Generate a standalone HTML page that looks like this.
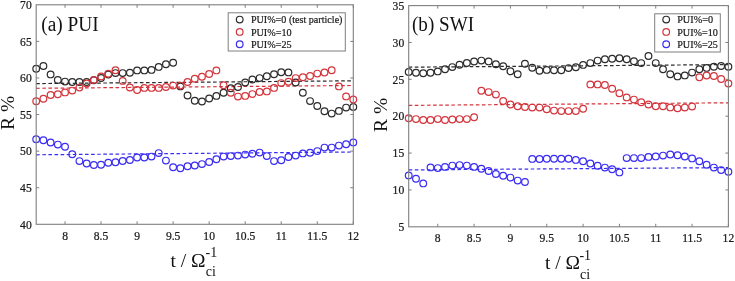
<!DOCTYPE html>
<html><head><meta charset="utf-8"><style>
html,body{margin:0;padding:0;background:#fff;}
body{width:735px;height:281px;overflow:hidden;}
svg{display:block;will-change:transform;}
text{font-family:"Liberation Serif",serif;}
.tk{font-size:11.6px;fill:#1a1a1a;stroke:#1a1a1a;stroke-width:0.22px;}
.lg{font-size:11px;fill:#1a1a1a;stroke:#1a1a1a;stroke-width:0.22px;}
.ttl{font-size:20px;fill:#111;}
.lab{font-size:19.5px;fill:#111;}
.sup{font-size:14px;fill:#111;}
</style></head><body>
<svg width="735" height="281" viewBox="0 0 735 281">
<rect width="735" height="281" fill="#fff"/>
<line x1="36.20" y1="83.6" x2="353.30" y2="80.8" stroke="#2b2b2b" stroke-width="1.2" stroke-dasharray="3.6 2.5"/>
<line x1="36.20" y1="88.3" x2="353.30" y2="85.5" stroke="#d4343c" stroke-width="1.2" stroke-dasharray="3.6 2.5"/>
<line x1="36.20" y1="154.8" x2="353.30" y2="152.0" stroke="#3a2cf2" stroke-width="1.2" stroke-dasharray="3.6 2.5"/>
<circle cx="36.20" cy="68.7" r="3.35" fill="none" stroke="#2b2b2b" stroke-width="1.2"/>
<circle cx="43.41" cy="66" r="3.35" fill="none" stroke="#2b2b2b" stroke-width="1.2"/>
<circle cx="50.61" cy="74.4" r="3.35" fill="none" stroke="#2b2b2b" stroke-width="1.2"/>
<circle cx="57.82" cy="79.9" r="3.35" fill="none" stroke="#2b2b2b" stroke-width="1.2"/>
<circle cx="65.03" cy="81.6" r="3.35" fill="none" stroke="#2b2b2b" stroke-width="1.2"/>
<circle cx="72.23" cy="82" r="3.35" fill="none" stroke="#2b2b2b" stroke-width="1.2"/>
<circle cx="79.44" cy="82" r="3.35" fill="none" stroke="#2b2b2b" stroke-width="1.2"/>
<circle cx="86.65" cy="82" r="3.35" fill="none" stroke="#2b2b2b" stroke-width="1.2"/>
<circle cx="93.85" cy="80.2" r="3.35" fill="none" stroke="#2b2b2b" stroke-width="1.2"/>
<circle cx="101.06" cy="78" r="3.35" fill="none" stroke="#2b2b2b" stroke-width="1.2"/>
<circle cx="108.27" cy="74.5" r="3.35" fill="none" stroke="#2b2b2b" stroke-width="1.2"/>
<circle cx="115.48" cy="73.1" r="3.35" fill="none" stroke="#2b2b2b" stroke-width="1.2"/>
<circle cx="122.68" cy="73.1" r="3.35" fill="none" stroke="#2b2b2b" stroke-width="1.2"/>
<circle cx="129.89" cy="72.8" r="3.35" fill="none" stroke="#2b2b2b" stroke-width="1.2"/>
<circle cx="137.10" cy="70.4" r="3.35" fill="none" stroke="#2b2b2b" stroke-width="1.2"/>
<circle cx="144.30" cy="70.4" r="3.35" fill="none" stroke="#2b2b2b" stroke-width="1.2"/>
<circle cx="151.51" cy="69.9" r="3.35" fill="none" stroke="#2b2b2b" stroke-width="1.2"/>
<circle cx="158.72" cy="66.9" r="3.35" fill="none" stroke="#2b2b2b" stroke-width="1.2"/>
<circle cx="165.92" cy="64.2" r="3.35" fill="none" stroke="#2b2b2b" stroke-width="1.2"/>
<circle cx="173.13" cy="62.8" r="3.35" fill="none" stroke="#2b2b2b" stroke-width="1.2"/>
<circle cx="180.34" cy="86.4" r="3.35" fill="none" stroke="#2b2b2b" stroke-width="1.2"/>
<circle cx="187.54" cy="95.5" r="3.35" fill="none" stroke="#2b2b2b" stroke-width="1.2"/>
<circle cx="194.75" cy="100.8" r="3.35" fill="none" stroke="#2b2b2b" stroke-width="1.2"/>
<circle cx="201.96" cy="101.5" r="3.35" fill="none" stroke="#2b2b2b" stroke-width="1.2"/>
<circle cx="209.16" cy="98.5" r="3.35" fill="none" stroke="#2b2b2b" stroke-width="1.2"/>
<circle cx="216.37" cy="95.9" r="3.35" fill="none" stroke="#2b2b2b" stroke-width="1.2"/>
<circle cx="223.58" cy="92.7" r="3.35" fill="none" stroke="#2b2b2b" stroke-width="1.2"/>
<circle cx="230.78" cy="88.2" r="3.35" fill="none" stroke="#2b2b2b" stroke-width="1.2"/>
<circle cx="237.99" cy="87" r="3.35" fill="none" stroke="#2b2b2b" stroke-width="1.2"/>
<circle cx="245.20" cy="82.5" r="3.35" fill="none" stroke="#2b2b2b" stroke-width="1.2"/>
<circle cx="252.40" cy="79.5" r="3.35" fill="none" stroke="#2b2b2b" stroke-width="1.2"/>
<circle cx="259.61" cy="78.1" r="3.35" fill="none" stroke="#2b2b2b" stroke-width="1.2"/>
<circle cx="266.82" cy="76.3" r="3.35" fill="none" stroke="#2b2b2b" stroke-width="1.2"/>
<circle cx="274.03" cy="74.2" r="3.35" fill="none" stroke="#2b2b2b" stroke-width="1.2"/>
<circle cx="281.23" cy="72.2" r="3.35" fill="none" stroke="#2b2b2b" stroke-width="1.2"/>
<circle cx="288.44" cy="72.4" r="3.35" fill="none" stroke="#2b2b2b" stroke-width="1.2"/>
<circle cx="295.65" cy="82.5" r="3.35" fill="none" stroke="#2b2b2b" stroke-width="1.2"/>
<circle cx="302.85" cy="92.8" r="3.35" fill="none" stroke="#2b2b2b" stroke-width="1.2"/>
<circle cx="310.06" cy="101.1" r="3.35" fill="none" stroke="#2b2b2b" stroke-width="1.2"/>
<circle cx="317.27" cy="106" r="3.35" fill="none" stroke="#2b2b2b" stroke-width="1.2"/>
<circle cx="324.47" cy="111.2" r="3.35" fill="none" stroke="#2b2b2b" stroke-width="1.2"/>
<circle cx="331.68" cy="113.6" r="3.35" fill="none" stroke="#2b2b2b" stroke-width="1.2"/>
<circle cx="338.89" cy="110.9" r="3.35" fill="none" stroke="#2b2b2b" stroke-width="1.2"/>
<circle cx="346.09" cy="107.6" r="3.35" fill="none" stroke="#2b2b2b" stroke-width="1.2"/>
<circle cx="353.30" cy="106.9" r="3.35" fill="none" stroke="#2b2b2b" stroke-width="1.2"/>
<circle cx="36.20" cy="101.3" r="3.35" fill="none" stroke="#d4343c" stroke-width="1.2"/>
<circle cx="43.41" cy="98.7" r="3.35" fill="none" stroke="#d4343c" stroke-width="1.2"/>
<circle cx="50.61" cy="95" r="3.35" fill="none" stroke="#d4343c" stroke-width="1.2"/>
<circle cx="57.82" cy="94.2" r="3.35" fill="none" stroke="#d4343c" stroke-width="1.2"/>
<circle cx="65.03" cy="92.4" r="3.35" fill="none" stroke="#d4343c" stroke-width="1.2"/>
<circle cx="72.23" cy="90.6" r="3.35" fill="none" stroke="#d4343c" stroke-width="1.2"/>
<circle cx="79.44" cy="87.6" r="3.35" fill="none" stroke="#d4343c" stroke-width="1.2"/>
<circle cx="86.65" cy="83.5" r="3.35" fill="none" stroke="#d4343c" stroke-width="1.2"/>
<circle cx="93.85" cy="79.9" r="3.35" fill="none" stroke="#d4343c" stroke-width="1.2"/>
<circle cx="101.06" cy="76.4" r="3.35" fill="none" stroke="#d4343c" stroke-width="1.2"/>
<circle cx="108.27" cy="73.7" r="3.35" fill="none" stroke="#d4343c" stroke-width="1.2"/>
<circle cx="115.48" cy="70.2" r="3.35" fill="none" stroke="#d4343c" stroke-width="1.2"/>
<circle cx="122.68" cy="80.9" r="3.35" fill="none" stroke="#d4343c" stroke-width="1.2"/>
<circle cx="129.89" cy="87.5" r="3.35" fill="none" stroke="#d4343c" stroke-width="1.2"/>
<circle cx="137.10" cy="90" r="3.35" fill="none" stroke="#d4343c" stroke-width="1.2"/>
<circle cx="144.30" cy="87.9" r="3.35" fill="none" stroke="#d4343c" stroke-width="1.2"/>
<circle cx="151.51" cy="87.9" r="3.35" fill="none" stroke="#d4343c" stroke-width="1.2"/>
<circle cx="158.72" cy="87.9" r="3.35" fill="none" stroke="#d4343c" stroke-width="1.2"/>
<circle cx="165.92" cy="87" r="3.35" fill="none" stroke="#d4343c" stroke-width="1.2"/>
<circle cx="173.13" cy="85.6" r="3.35" fill="none" stroke="#d4343c" stroke-width="1.2"/>
<circle cx="180.34" cy="85.6" r="3.35" fill="none" stroke="#d4343c" stroke-width="1.2"/>
<circle cx="187.54" cy="82" r="3.35" fill="none" stroke="#d4343c" stroke-width="1.2"/>
<circle cx="194.75" cy="78.8" r="3.35" fill="none" stroke="#d4343c" stroke-width="1.2"/>
<circle cx="201.96" cy="76.7" r="3.35" fill="none" stroke="#d4343c" stroke-width="1.2"/>
<circle cx="209.16" cy="74" r="3.35" fill="none" stroke="#d4343c" stroke-width="1.2"/>
<circle cx="216.37" cy="70.4" r="3.35" fill="none" stroke="#d4343c" stroke-width="1.2"/>
<circle cx="223.58" cy="85.2" r="3.35" fill="none" stroke="#d4343c" stroke-width="1.2"/>
<circle cx="230.78" cy="92.7" r="3.35" fill="none" stroke="#d4343c" stroke-width="1.2"/>
<circle cx="237.99" cy="96.6" r="3.35" fill="none" stroke="#d4343c" stroke-width="1.2"/>
<circle cx="245.20" cy="95.9" r="3.35" fill="none" stroke="#d4343c" stroke-width="1.2"/>
<circle cx="252.40" cy="94.1" r="3.35" fill="none" stroke="#d4343c" stroke-width="1.2"/>
<circle cx="259.61" cy="92" r="3.35" fill="none" stroke="#d4343c" stroke-width="1.2"/>
<circle cx="266.82" cy="91.4" r="3.35" fill="none" stroke="#d4343c" stroke-width="1.2"/>
<circle cx="274.03" cy="87.9" r="3.35" fill="none" stroke="#d4343c" stroke-width="1.2"/>
<circle cx="281.23" cy="83.1" r="3.35" fill="none" stroke="#d4343c" stroke-width="1.2"/>
<circle cx="288.44" cy="81.7" r="3.35" fill="none" stroke="#d4343c" stroke-width="1.2"/>
<circle cx="295.65" cy="78.1" r="3.35" fill="none" stroke="#d4343c" stroke-width="1.2"/>
<circle cx="302.85" cy="77.2" r="3.35" fill="none" stroke="#d4343c" stroke-width="1.2"/>
<circle cx="310.06" cy="76" r="3.35" fill="none" stroke="#d4343c" stroke-width="1.2"/>
<circle cx="317.27" cy="73.6" r="3.35" fill="none" stroke="#d4343c" stroke-width="1.2"/>
<circle cx="324.47" cy="72.5" r="3.35" fill="none" stroke="#d4343c" stroke-width="1.2"/>
<circle cx="331.68" cy="70.3" r="3.35" fill="none" stroke="#d4343c" stroke-width="1.2"/>
<circle cx="338.89" cy="86.4" r="3.35" fill="none" stroke="#d4343c" stroke-width="1.2"/>
<circle cx="346.09" cy="96.4" r="3.35" fill="none" stroke="#d4343c" stroke-width="1.2"/>
<circle cx="353.30" cy="99.5" r="3.35" fill="none" stroke="#d4343c" stroke-width="1.2"/>
<circle cx="36.20" cy="139.3" r="3.35" fill="none" stroke="#3a2cf2" stroke-width="1.2"/>
<circle cx="43.41" cy="140.3" r="3.35" fill="none" stroke="#3a2cf2" stroke-width="1.2"/>
<circle cx="50.61" cy="142.5" r="3.35" fill="none" stroke="#3a2cf2" stroke-width="1.2"/>
<circle cx="57.82" cy="144.6" r="3.35" fill="none" stroke="#3a2cf2" stroke-width="1.2"/>
<circle cx="65.03" cy="146.8" r="3.35" fill="none" stroke="#3a2cf2" stroke-width="1.2"/>
<circle cx="72.23" cy="154.3" r="3.35" fill="none" stroke="#3a2cf2" stroke-width="1.2"/>
<circle cx="79.44" cy="161.1" r="3.35" fill="none" stroke="#3a2cf2" stroke-width="1.2"/>
<circle cx="86.65" cy="163.5" r="3.35" fill="none" stroke="#3a2cf2" stroke-width="1.2"/>
<circle cx="93.85" cy="165" r="3.35" fill="none" stroke="#3a2cf2" stroke-width="1.2"/>
<circle cx="101.06" cy="164.8" r="3.35" fill="none" stroke="#3a2cf2" stroke-width="1.2"/>
<circle cx="108.27" cy="162.8" r="3.35" fill="none" stroke="#3a2cf2" stroke-width="1.2"/>
<circle cx="115.48" cy="162.2" r="3.35" fill="none" stroke="#3a2cf2" stroke-width="1.2"/>
<circle cx="122.68" cy="161" r="3.35" fill="none" stroke="#3a2cf2" stroke-width="1.2"/>
<circle cx="129.89" cy="160" r="3.35" fill="none" stroke="#3a2cf2" stroke-width="1.2"/>
<circle cx="137.10" cy="157.5" r="3.35" fill="none" stroke="#3a2cf2" stroke-width="1.2"/>
<circle cx="144.30" cy="157.5" r="3.35" fill="none" stroke="#3a2cf2" stroke-width="1.2"/>
<circle cx="151.51" cy="156.6" r="3.35" fill="none" stroke="#3a2cf2" stroke-width="1.2"/>
<circle cx="158.72" cy="153.1" r="3.35" fill="none" stroke="#3a2cf2" stroke-width="1.2"/>
<circle cx="165.92" cy="160.6" r="3.35" fill="none" stroke="#3a2cf2" stroke-width="1.2"/>
<circle cx="173.13" cy="167.3" r="3.35" fill="none" stroke="#3a2cf2" stroke-width="1.2"/>
<circle cx="180.34" cy="168.3" r="3.35" fill="none" stroke="#3a2cf2" stroke-width="1.2"/>
<circle cx="187.54" cy="166.2" r="3.35" fill="none" stroke="#3a2cf2" stroke-width="1.2"/>
<circle cx="194.75" cy="165.5" r="3.35" fill="none" stroke="#3a2cf2" stroke-width="1.2"/>
<circle cx="201.96" cy="164.1" r="3.35" fill="none" stroke="#3a2cf2" stroke-width="1.2"/>
<circle cx="209.16" cy="162" r="3.35" fill="none" stroke="#3a2cf2" stroke-width="1.2"/>
<circle cx="216.37" cy="159.3" r="3.35" fill="none" stroke="#3a2cf2" stroke-width="1.2"/>
<circle cx="223.58" cy="156.6" r="3.35" fill="none" stroke="#3a2cf2" stroke-width="1.2"/>
<circle cx="230.78" cy="156.1" r="3.35" fill="none" stroke="#3a2cf2" stroke-width="1.2"/>
<circle cx="237.99" cy="155.6" r="3.35" fill="none" stroke="#3a2cf2" stroke-width="1.2"/>
<circle cx="245.20" cy="154.6" r="3.35" fill="none" stroke="#3a2cf2" stroke-width="1.2"/>
<circle cx="252.40" cy="153.8" r="3.35" fill="none" stroke="#3a2cf2" stroke-width="1.2"/>
<circle cx="259.61" cy="152.6" r="3.35" fill="none" stroke="#3a2cf2" stroke-width="1.2"/>
<circle cx="266.82" cy="156.1" r="3.35" fill="none" stroke="#3a2cf2" stroke-width="1.2"/>
<circle cx="274.03" cy="161.1" r="3.35" fill="none" stroke="#3a2cf2" stroke-width="1.2"/>
<circle cx="281.23" cy="160.2" r="3.35" fill="none" stroke="#3a2cf2" stroke-width="1.2"/>
<circle cx="288.44" cy="157" r="3.35" fill="none" stroke="#3a2cf2" stroke-width="1.2"/>
<circle cx="295.65" cy="155.6" r="3.35" fill="none" stroke="#3a2cf2" stroke-width="1.2"/>
<circle cx="302.85" cy="153.4" r="3.35" fill="none" stroke="#3a2cf2" stroke-width="1.2"/>
<circle cx="310.06" cy="152.7" r="3.35" fill="none" stroke="#3a2cf2" stroke-width="1.2"/>
<circle cx="317.27" cy="151.1" r="3.35" fill="none" stroke="#3a2cf2" stroke-width="1.2"/>
<circle cx="324.47" cy="147.6" r="3.35" fill="none" stroke="#3a2cf2" stroke-width="1.2"/>
<circle cx="331.68" cy="147.6" r="3.35" fill="none" stroke="#3a2cf2" stroke-width="1.2"/>
<circle cx="338.89" cy="145.6" r="3.35" fill="none" stroke="#3a2cf2" stroke-width="1.2"/>
<circle cx="346.09" cy="144.3" r="3.35" fill="none" stroke="#3a2cf2" stroke-width="1.2"/>
<circle cx="353.30" cy="142.4" r="3.35" fill="none" stroke="#3a2cf2" stroke-width="1.2"/>
<rect x="36.2" y="4.8" width="317.10" height="219.50" fill="none" stroke="#7f7f7f" stroke-width="1.1"/>
<line x1="65.03" y1="224.3" x2="65.03" y2="221.3" stroke="#7f7f7f" stroke-width="1"/>
<line x1="65.03" y1="4.8" x2="65.03" y2="7.8" stroke="#7f7f7f" stroke-width="1"/>
<text x="65.03" y="239.5" text-anchor="middle" class="tk">8</text>
<line x1="101.06" y1="224.3" x2="101.06" y2="221.3" stroke="#7f7f7f" stroke-width="1"/>
<line x1="101.06" y1="4.8" x2="101.06" y2="7.8" stroke="#7f7f7f" stroke-width="1"/>
<text x="101.06" y="239.5" text-anchor="middle" class="tk">8.5</text>
<line x1="137.10" y1="224.3" x2="137.10" y2="221.3" stroke="#7f7f7f" stroke-width="1"/>
<line x1="137.10" y1="4.8" x2="137.10" y2="7.8" stroke="#7f7f7f" stroke-width="1"/>
<text x="137.10" y="239.5" text-anchor="middle" class="tk">9</text>
<line x1="173.13" y1="224.3" x2="173.13" y2="221.3" stroke="#7f7f7f" stroke-width="1"/>
<line x1="173.13" y1="4.8" x2="173.13" y2="7.8" stroke="#7f7f7f" stroke-width="1"/>
<text x="173.13" y="239.5" text-anchor="middle" class="tk">9.5</text>
<line x1="209.16" y1="224.3" x2="209.16" y2="221.3" stroke="#7f7f7f" stroke-width="1"/>
<line x1="209.16" y1="4.8" x2="209.16" y2="7.8" stroke="#7f7f7f" stroke-width="1"/>
<text x="209.16" y="239.5" text-anchor="middle" class="tk">10</text>
<line x1="245.20" y1="224.3" x2="245.20" y2="221.3" stroke="#7f7f7f" stroke-width="1"/>
<line x1="245.20" y1="4.8" x2="245.20" y2="7.8" stroke="#7f7f7f" stroke-width="1"/>
<text x="245.20" y="239.5" text-anchor="middle" class="tk">10.5</text>
<line x1="281.23" y1="224.3" x2="281.23" y2="221.3" stroke="#7f7f7f" stroke-width="1"/>
<line x1="281.23" y1="4.8" x2="281.23" y2="7.8" stroke="#7f7f7f" stroke-width="1"/>
<text x="281.23" y="239.5" text-anchor="middle" class="tk">11</text>
<line x1="317.27" y1="224.3" x2="317.27" y2="221.3" stroke="#7f7f7f" stroke-width="1"/>
<line x1="317.27" y1="4.8" x2="317.27" y2="7.8" stroke="#7f7f7f" stroke-width="1"/>
<text x="317.27" y="239.5" text-anchor="middle" class="tk">11.5</text>
<line x1="353.30" y1="224.3" x2="353.30" y2="221.3" stroke="#7f7f7f" stroke-width="1"/>
<line x1="353.30" y1="4.8" x2="353.30" y2="7.8" stroke="#7f7f7f" stroke-width="1"/>
<text x="353.30" y="239.5" text-anchor="middle" class="tk">12</text>
<text x="31.700000000000003" y="228.50" text-anchor="end" class="tk">40</text>
<line x1="36.2" y1="187.72" x2="39.2" y2="187.72" stroke="#7f7f7f" stroke-width="1"/>
<line x1="353.3" y1="187.72" x2="350.3" y2="187.72" stroke="#7f7f7f" stroke-width="1"/>
<text x="31.700000000000003" y="191.92" text-anchor="end" class="tk">45</text>
<line x1="36.2" y1="151.13" x2="39.2" y2="151.13" stroke="#7f7f7f" stroke-width="1"/>
<line x1="353.3" y1="151.13" x2="350.3" y2="151.13" stroke="#7f7f7f" stroke-width="1"/>
<text x="31.700000000000003" y="155.33" text-anchor="end" class="tk">50</text>
<line x1="36.2" y1="114.55" x2="39.2" y2="114.55" stroke="#7f7f7f" stroke-width="1"/>
<line x1="353.3" y1="114.55" x2="350.3" y2="114.55" stroke="#7f7f7f" stroke-width="1"/>
<text x="31.700000000000003" y="118.75" text-anchor="end" class="tk">55</text>
<line x1="36.2" y1="77.97" x2="39.2" y2="77.97" stroke="#7f7f7f" stroke-width="1"/>
<line x1="353.3" y1="77.97" x2="350.3" y2="77.97" stroke="#7f7f7f" stroke-width="1"/>
<text x="31.700000000000003" y="82.17" text-anchor="end" class="tk">60</text>
<line x1="36.2" y1="41.38" x2="39.2" y2="41.38" stroke="#7f7f7f" stroke-width="1"/>
<line x1="353.3" y1="41.38" x2="350.3" y2="41.38" stroke="#7f7f7f" stroke-width="1"/>
<text x="31.700000000000003" y="45.58" text-anchor="end" class="tk">65</text>
<text x="31.700000000000003" y="9.00" text-anchor="end" class="tk">70</text>
<text x="41.2" y="30.5" class="ttl" textLength="57.5" lengthAdjust="spacingAndGlyphs">(a) PUI</text>
<rect x="228.2" y="12.8" width="117.10000000000002" height="38.2" fill="#fff" stroke="#7f7f7f" stroke-width="1"/>
<circle cx="239.7" cy="19.6" r="3.35" fill="none" stroke="#2b2b2b" stroke-width="1.2"/>
<text x="250.9" y="23.400000000000002" class="lg" textLength="91.6" lengthAdjust="spacingAndGlyphs">PUI%=0 (test particle)</text>
<circle cx="239.7" cy="31.900000000000002" r="3.35" fill="none" stroke="#d4343c" stroke-width="1.2"/>
<text x="250.9" y="35.7" class="lg" textLength="40.7" lengthAdjust="spacingAndGlyphs">PUI%=10</text>
<circle cx="239.7" cy="44.2" r="3.35" fill="none" stroke="#3a2cf2" stroke-width="1.2"/>
<text x="250.9" y="48.0" class="lg" textLength="40.7" lengthAdjust="spacingAndGlyphs">PUI%=25</text>
<line x1="408.70" y1="67.2" x2="728.40" y2="64.6" stroke="#2b2b2b" stroke-width="1.2" stroke-dasharray="3.6 2.5"/>
<line x1="408.70" y1="105.4" x2="728.40" y2="102.8" stroke="#d4343c" stroke-width="1.2" stroke-dasharray="3.6 2.5"/>
<line x1="408.70" y1="169.9" x2="728.40" y2="167.6" stroke="#3a2cf2" stroke-width="1.2" stroke-dasharray="3.6 2.5"/>
<circle cx="408.70" cy="71.9" r="3.35" fill="none" stroke="#2b2b2b" stroke-width="1.2"/>
<circle cx="415.97" cy="72.8" r="3.35" fill="none" stroke="#2b2b2b" stroke-width="1.2"/>
<circle cx="423.23" cy="73.3" r="3.35" fill="none" stroke="#2b2b2b" stroke-width="1.2"/>
<circle cx="430.50" cy="72.8" r="3.35" fill="none" stroke="#2b2b2b" stroke-width="1.2"/>
<circle cx="437.76" cy="71.4" r="3.35" fill="none" stroke="#2b2b2b" stroke-width="1.2"/>
<circle cx="445.03" cy="69.2" r="3.35" fill="none" stroke="#2b2b2b" stroke-width="1.2"/>
<circle cx="452.30" cy="67.1" r="3.35" fill="none" stroke="#2b2b2b" stroke-width="1.2"/>
<circle cx="459.56" cy="64.8" r="3.35" fill="none" stroke="#2b2b2b" stroke-width="1.2"/>
<circle cx="466.83" cy="63" r="3.35" fill="none" stroke="#2b2b2b" stroke-width="1.2"/>
<circle cx="474.09" cy="61.5" r="3.35" fill="none" stroke="#2b2b2b" stroke-width="1.2"/>
<circle cx="481.36" cy="60.6" r="3.35" fill="none" stroke="#2b2b2b" stroke-width="1.2"/>
<circle cx="488.62" cy="61.4" r="3.35" fill="none" stroke="#2b2b2b" stroke-width="1.2"/>
<circle cx="495.89" cy="64.2" r="3.35" fill="none" stroke="#2b2b2b" stroke-width="1.2"/>
<circle cx="503.16" cy="66.3" r="3.35" fill="none" stroke="#2b2b2b" stroke-width="1.2"/>
<circle cx="510.42" cy="71.3" r="3.35" fill="none" stroke="#2b2b2b" stroke-width="1.2"/>
<circle cx="517.69" cy="74.3" r="3.35" fill="none" stroke="#2b2b2b" stroke-width="1.2"/>
<circle cx="524.95" cy="63.7" r="3.35" fill="none" stroke="#2b2b2b" stroke-width="1.2"/>
<circle cx="532.22" cy="67.8" r="3.35" fill="none" stroke="#2b2b2b" stroke-width="1.2"/>
<circle cx="539.49" cy="70.8" r="3.35" fill="none" stroke="#2b2b2b" stroke-width="1.2"/>
<circle cx="546.75" cy="69.9" r="3.35" fill="none" stroke="#2b2b2b" stroke-width="1.2"/>
<circle cx="554.02" cy="70.2" r="3.35" fill="none" stroke="#2b2b2b" stroke-width="1.2"/>
<circle cx="561.28" cy="70.2" r="3.35" fill="none" stroke="#2b2b2b" stroke-width="1.2"/>
<circle cx="568.55" cy="68.1" r="3.35" fill="none" stroke="#2b2b2b" stroke-width="1.2"/>
<circle cx="575.82" cy="67.2" r="3.35" fill="none" stroke="#2b2b2b" stroke-width="1.2"/>
<circle cx="583.08" cy="64.9" r="3.35" fill="none" stroke="#2b2b2b" stroke-width="1.2"/>
<circle cx="590.35" cy="63.1" r="3.35" fill="none" stroke="#2b2b2b" stroke-width="1.2"/>
<circle cx="597.61" cy="60.6" r="3.35" fill="none" stroke="#2b2b2b" stroke-width="1.2"/>
<circle cx="604.88" cy="59.2" r="3.35" fill="none" stroke="#2b2b2b" stroke-width="1.2"/>
<circle cx="612.15" cy="58.8" r="3.35" fill="none" stroke="#2b2b2b" stroke-width="1.2"/>
<circle cx="619.41" cy="58.3" r="3.35" fill="none" stroke="#2b2b2b" stroke-width="1.2"/>
<circle cx="626.68" cy="59.2" r="3.35" fill="none" stroke="#2b2b2b" stroke-width="1.2"/>
<circle cx="633.94" cy="61.3" r="3.35" fill="none" stroke="#2b2b2b" stroke-width="1.2"/>
<circle cx="641.21" cy="63.1" r="3.35" fill="none" stroke="#2b2b2b" stroke-width="1.2"/>
<circle cx="648.48" cy="56" r="3.35" fill="none" stroke="#2b2b2b" stroke-width="1.2"/>
<circle cx="655.74" cy="63.1" r="3.35" fill="none" stroke="#2b2b2b" stroke-width="1.2"/>
<circle cx="663.01" cy="69.3" r="3.35" fill="none" stroke="#2b2b2b" stroke-width="1.2"/>
<circle cx="670.27" cy="74.2" r="3.35" fill="none" stroke="#2b2b2b" stroke-width="1.2"/>
<circle cx="677.54" cy="76.4" r="3.35" fill="none" stroke="#2b2b2b" stroke-width="1.2"/>
<circle cx="684.80" cy="75.4" r="3.35" fill="none" stroke="#2b2b2b" stroke-width="1.2"/>
<circle cx="692.07" cy="72.6" r="3.35" fill="none" stroke="#2b2b2b" stroke-width="1.2"/>
<circle cx="699.34" cy="69.2" r="3.35" fill="none" stroke="#2b2b2b" stroke-width="1.2"/>
<circle cx="706.60" cy="67.9" r="3.35" fill="none" stroke="#2b2b2b" stroke-width="1.2"/>
<circle cx="713.87" cy="66.8" r="3.35" fill="none" stroke="#2b2b2b" stroke-width="1.2"/>
<circle cx="721.13" cy="66" r="3.35" fill="none" stroke="#2b2b2b" stroke-width="1.2"/>
<circle cx="728.40" cy="66.8" r="3.35" fill="none" stroke="#2b2b2b" stroke-width="1.2"/>
<circle cx="408.70" cy="118.2" r="3.35" fill="none" stroke="#d4343c" stroke-width="1.2"/>
<circle cx="415.97" cy="119.1" r="3.35" fill="none" stroke="#d4343c" stroke-width="1.2"/>
<circle cx="423.23" cy="120" r="3.35" fill="none" stroke="#d4343c" stroke-width="1.2"/>
<circle cx="430.50" cy="120" r="3.35" fill="none" stroke="#d4343c" stroke-width="1.2"/>
<circle cx="437.76" cy="119.1" r="3.35" fill="none" stroke="#d4343c" stroke-width="1.2"/>
<circle cx="445.03" cy="120" r="3.35" fill="none" stroke="#d4343c" stroke-width="1.2"/>
<circle cx="452.30" cy="119.5" r="3.35" fill="none" stroke="#d4343c" stroke-width="1.2"/>
<circle cx="459.56" cy="119.1" r="3.35" fill="none" stroke="#d4343c" stroke-width="1.2"/>
<circle cx="466.83" cy="119.1" r="3.35" fill="none" stroke="#d4343c" stroke-width="1.2"/>
<circle cx="474.09" cy="117.3" r="3.35" fill="none" stroke="#d4343c" stroke-width="1.2"/>
<circle cx="481.36" cy="90.7" r="3.35" fill="none" stroke="#d4343c" stroke-width="1.2"/>
<circle cx="488.62" cy="92.1" r="3.35" fill="none" stroke="#d4343c" stroke-width="1.2"/>
<circle cx="495.89" cy="94.6" r="3.35" fill="none" stroke="#d4343c" stroke-width="1.2"/>
<circle cx="503.16" cy="101" r="3.35" fill="none" stroke="#d4343c" stroke-width="1.2"/>
<circle cx="510.42" cy="104.5" r="3.35" fill="none" stroke="#d4343c" stroke-width="1.2"/>
<circle cx="517.69" cy="106.3" r="3.35" fill="none" stroke="#d4343c" stroke-width="1.2"/>
<circle cx="524.95" cy="107" r="3.35" fill="none" stroke="#d4343c" stroke-width="1.2"/>
<circle cx="532.22" cy="107.6" r="3.35" fill="none" stroke="#d4343c" stroke-width="1.2"/>
<circle cx="539.49" cy="107.6" r="3.35" fill="none" stroke="#d4343c" stroke-width="1.2"/>
<circle cx="546.75" cy="109.3" r="3.35" fill="none" stroke="#d4343c" stroke-width="1.2"/>
<circle cx="554.02" cy="110.6" r="3.35" fill="none" stroke="#d4343c" stroke-width="1.2"/>
<circle cx="561.28" cy="111.1" r="3.35" fill="none" stroke="#d4343c" stroke-width="1.2"/>
<circle cx="568.55" cy="111.1" r="3.35" fill="none" stroke="#d4343c" stroke-width="1.2"/>
<circle cx="575.82" cy="111.1" r="3.35" fill="none" stroke="#d4343c" stroke-width="1.2"/>
<circle cx="583.08" cy="108.8" r="3.35" fill="none" stroke="#d4343c" stroke-width="1.2"/>
<circle cx="590.35" cy="84.4" r="3.35" fill="none" stroke="#d4343c" stroke-width="1.2"/>
<circle cx="597.61" cy="84.4" r="3.35" fill="none" stroke="#d4343c" stroke-width="1.2"/>
<circle cx="604.88" cy="85" r="3.35" fill="none" stroke="#d4343c" stroke-width="1.2"/>
<circle cx="612.15" cy="88.7" r="3.35" fill="none" stroke="#d4343c" stroke-width="1.2"/>
<circle cx="619.41" cy="93.3" r="3.35" fill="none" stroke="#d4343c" stroke-width="1.2"/>
<circle cx="626.68" cy="97.4" r="3.35" fill="none" stroke="#d4343c" stroke-width="1.2"/>
<circle cx="633.94" cy="99.6" r="3.35" fill="none" stroke="#d4343c" stroke-width="1.2"/>
<circle cx="641.21" cy="102.2" r="3.35" fill="none" stroke="#d4343c" stroke-width="1.2"/>
<circle cx="648.48" cy="104.5" r="3.35" fill="none" stroke="#d4343c" stroke-width="1.2"/>
<circle cx="655.74" cy="106.3" r="3.35" fill="none" stroke="#d4343c" stroke-width="1.2"/>
<circle cx="663.01" cy="106.3" r="3.35" fill="none" stroke="#d4343c" stroke-width="1.2"/>
<circle cx="670.27" cy="107.4" r="3.35" fill="none" stroke="#d4343c" stroke-width="1.2"/>
<circle cx="677.54" cy="108.2" r="3.35" fill="none" stroke="#d4343c" stroke-width="1.2"/>
<circle cx="684.80" cy="107.6" r="3.35" fill="none" stroke="#d4343c" stroke-width="1.2"/>
<circle cx="692.07" cy="106.5" r="3.35" fill="none" stroke="#d4343c" stroke-width="1.2"/>
<circle cx="699.34" cy="77.2" r="3.35" fill="none" stroke="#d4343c" stroke-width="1.2"/>
<circle cx="706.60" cy="75.5" r="3.35" fill="none" stroke="#d4343c" stroke-width="1.2"/>
<circle cx="713.87" cy="76" r="3.35" fill="none" stroke="#d4343c" stroke-width="1.2"/>
<circle cx="721.13" cy="79" r="3.35" fill="none" stroke="#d4343c" stroke-width="1.2"/>
<circle cx="728.40" cy="83.5" r="3.35" fill="none" stroke="#d4343c" stroke-width="1.2"/>
<circle cx="408.70" cy="175.4" r="3.35" fill="none" stroke="#3a2cf2" stroke-width="1.2"/>
<circle cx="415.97" cy="178.8" r="3.35" fill="none" stroke="#3a2cf2" stroke-width="1.2"/>
<circle cx="423.23" cy="183.4" r="3.35" fill="none" stroke="#3a2cf2" stroke-width="1.2"/>
<circle cx="430.50" cy="167.4" r="3.35" fill="none" stroke="#3a2cf2" stroke-width="1.2"/>
<circle cx="437.76" cy="168.1" r="3.35" fill="none" stroke="#3a2cf2" stroke-width="1.2"/>
<circle cx="445.03" cy="166.9" r="3.35" fill="none" stroke="#3a2cf2" stroke-width="1.2"/>
<circle cx="452.30" cy="165.6" r="3.35" fill="none" stroke="#3a2cf2" stroke-width="1.2"/>
<circle cx="459.56" cy="165.1" r="3.35" fill="none" stroke="#3a2cf2" stroke-width="1.2"/>
<circle cx="466.83" cy="165.6" r="3.35" fill="none" stroke="#3a2cf2" stroke-width="1.2"/>
<circle cx="474.09" cy="166.9" r="3.35" fill="none" stroke="#3a2cf2" stroke-width="1.2"/>
<circle cx="481.36" cy="168.7" r="3.35" fill="none" stroke="#3a2cf2" stroke-width="1.2"/>
<circle cx="488.62" cy="171" r="3.35" fill="none" stroke="#3a2cf2" stroke-width="1.2"/>
<circle cx="495.89" cy="174" r="3.35" fill="none" stroke="#3a2cf2" stroke-width="1.2"/>
<circle cx="503.16" cy="175.8" r="3.35" fill="none" stroke="#3a2cf2" stroke-width="1.2"/>
<circle cx="510.42" cy="177.6" r="3.35" fill="none" stroke="#3a2cf2" stroke-width="1.2"/>
<circle cx="517.69" cy="180.6" r="3.35" fill="none" stroke="#3a2cf2" stroke-width="1.2"/>
<circle cx="524.95" cy="182" r="3.35" fill="none" stroke="#3a2cf2" stroke-width="1.2"/>
<circle cx="532.22" cy="158.9" r="3.35" fill="none" stroke="#3a2cf2" stroke-width="1.2"/>
<circle cx="539.49" cy="159" r="3.35" fill="none" stroke="#3a2cf2" stroke-width="1.2"/>
<circle cx="546.75" cy="158.8" r="3.35" fill="none" stroke="#3a2cf2" stroke-width="1.2"/>
<circle cx="554.02" cy="158.7" r="3.35" fill="none" stroke="#3a2cf2" stroke-width="1.2"/>
<circle cx="561.28" cy="158.7" r="3.35" fill="none" stroke="#3a2cf2" stroke-width="1.2"/>
<circle cx="568.55" cy="158.7" r="3.35" fill="none" stroke="#3a2cf2" stroke-width="1.2"/>
<circle cx="575.82" cy="159.9" r="3.35" fill="none" stroke="#3a2cf2" stroke-width="1.2"/>
<circle cx="583.08" cy="161.3" r="3.35" fill="none" stroke="#3a2cf2" stroke-width="1.2"/>
<circle cx="590.35" cy="163.5" r="3.35" fill="none" stroke="#3a2cf2" stroke-width="1.2"/>
<circle cx="597.61" cy="165.8" r="3.35" fill="none" stroke="#3a2cf2" stroke-width="1.2"/>
<circle cx="604.88" cy="167.6" r="3.35" fill="none" stroke="#3a2cf2" stroke-width="1.2"/>
<circle cx="612.15" cy="169.3" r="3.35" fill="none" stroke="#3a2cf2" stroke-width="1.2"/>
<circle cx="619.41" cy="172.4" r="3.35" fill="none" stroke="#3a2cf2" stroke-width="1.2"/>
<circle cx="626.68" cy="158.1" r="3.35" fill="none" stroke="#3a2cf2" stroke-width="1.2"/>
<circle cx="633.94" cy="158.1" r="3.35" fill="none" stroke="#3a2cf2" stroke-width="1.2"/>
<circle cx="641.21" cy="158.1" r="3.35" fill="none" stroke="#3a2cf2" stroke-width="1.2"/>
<circle cx="648.48" cy="156.9" r="3.35" fill="none" stroke="#3a2cf2" stroke-width="1.2"/>
<circle cx="655.74" cy="156.4" r="3.35" fill="none" stroke="#3a2cf2" stroke-width="1.2"/>
<circle cx="663.01" cy="155.6" r="3.35" fill="none" stroke="#3a2cf2" stroke-width="1.2"/>
<circle cx="670.27" cy="154.5" r="3.35" fill="none" stroke="#3a2cf2" stroke-width="1.2"/>
<circle cx="677.54" cy="155.3" r="3.35" fill="none" stroke="#3a2cf2" stroke-width="1.2"/>
<circle cx="684.80" cy="156.5" r="3.35" fill="none" stroke="#3a2cf2" stroke-width="1.2"/>
<circle cx="692.07" cy="158.4" r="3.35" fill="none" stroke="#3a2cf2" stroke-width="1.2"/>
<circle cx="699.34" cy="161.3" r="3.35" fill="none" stroke="#3a2cf2" stroke-width="1.2"/>
<circle cx="706.60" cy="164.8" r="3.35" fill="none" stroke="#3a2cf2" stroke-width="1.2"/>
<circle cx="713.87" cy="167.6" r="3.35" fill="none" stroke="#3a2cf2" stroke-width="1.2"/>
<circle cx="721.13" cy="170.1" r="3.35" fill="none" stroke="#3a2cf2" stroke-width="1.2"/>
<circle cx="728.40" cy="171.7" r="3.35" fill="none" stroke="#3a2cf2" stroke-width="1.2"/>
<rect x="408.7" y="5.6" width="319.70" height="221.20" fill="none" stroke="#7f7f7f" stroke-width="1.1"/>
<line x1="437.76" y1="226.8" x2="437.76" y2="223.8" stroke="#7f7f7f" stroke-width="1"/>
<line x1="437.76" y1="5.6" x2="437.76" y2="8.6" stroke="#7f7f7f" stroke-width="1"/>
<text x="437.76" y="242.0" text-anchor="middle" class="tk">8</text>
<line x1="474.09" y1="226.8" x2="474.09" y2="223.8" stroke="#7f7f7f" stroke-width="1"/>
<line x1="474.09" y1="5.6" x2="474.09" y2="8.6" stroke="#7f7f7f" stroke-width="1"/>
<text x="474.09" y="242.0" text-anchor="middle" class="tk">8.5</text>
<line x1="510.42" y1="226.8" x2="510.42" y2="223.8" stroke="#7f7f7f" stroke-width="1"/>
<line x1="510.42" y1="5.6" x2="510.42" y2="8.6" stroke="#7f7f7f" stroke-width="1"/>
<text x="510.42" y="242.0" text-anchor="middle" class="tk">9</text>
<line x1="546.75" y1="226.8" x2="546.75" y2="223.8" stroke="#7f7f7f" stroke-width="1"/>
<line x1="546.75" y1="5.6" x2="546.75" y2="8.6" stroke="#7f7f7f" stroke-width="1"/>
<text x="546.75" y="242.0" text-anchor="middle" class="tk">9.5</text>
<line x1="583.08" y1="226.8" x2="583.08" y2="223.8" stroke="#7f7f7f" stroke-width="1"/>
<line x1="583.08" y1="5.6" x2="583.08" y2="8.6" stroke="#7f7f7f" stroke-width="1"/>
<text x="583.08" y="242.0" text-anchor="middle" class="tk">10</text>
<line x1="619.41" y1="226.8" x2="619.41" y2="223.8" stroke="#7f7f7f" stroke-width="1"/>
<line x1="619.41" y1="5.6" x2="619.41" y2="8.6" stroke="#7f7f7f" stroke-width="1"/>
<text x="619.41" y="242.0" text-anchor="middle" class="tk">10.5</text>
<line x1="655.74" y1="226.8" x2="655.74" y2="223.8" stroke="#7f7f7f" stroke-width="1"/>
<line x1="655.74" y1="5.6" x2="655.74" y2="8.6" stroke="#7f7f7f" stroke-width="1"/>
<text x="655.74" y="242.0" text-anchor="middle" class="tk">11</text>
<line x1="692.07" y1="226.8" x2="692.07" y2="223.8" stroke="#7f7f7f" stroke-width="1"/>
<line x1="692.07" y1="5.6" x2="692.07" y2="8.6" stroke="#7f7f7f" stroke-width="1"/>
<text x="692.07" y="242.0" text-anchor="middle" class="tk">11.5</text>
<line x1="728.40" y1="226.8" x2="728.40" y2="223.8" stroke="#7f7f7f" stroke-width="1"/>
<line x1="728.40" y1="5.6" x2="728.40" y2="8.6" stroke="#7f7f7f" stroke-width="1"/>
<text x="728.40" y="242.0" text-anchor="middle" class="tk">12</text>
<text x="404.2" y="231.00" text-anchor="end" class="tk">5</text>
<line x1="408.7" y1="189.93" x2="411.7" y2="189.93" stroke="#7f7f7f" stroke-width="1"/>
<line x1="728.4" y1="189.93" x2="725.4" y2="189.93" stroke="#7f7f7f" stroke-width="1"/>
<text x="404.2" y="194.13" text-anchor="end" class="tk">10</text>
<line x1="408.7" y1="153.07" x2="411.7" y2="153.07" stroke="#7f7f7f" stroke-width="1"/>
<line x1="728.4" y1="153.07" x2="725.4" y2="153.07" stroke="#7f7f7f" stroke-width="1"/>
<text x="404.2" y="157.27" text-anchor="end" class="tk">15</text>
<line x1="408.7" y1="116.20" x2="411.7" y2="116.20" stroke="#7f7f7f" stroke-width="1"/>
<line x1="728.4" y1="116.20" x2="725.4" y2="116.20" stroke="#7f7f7f" stroke-width="1"/>
<text x="404.2" y="120.40" text-anchor="end" class="tk">20</text>
<line x1="408.7" y1="79.33" x2="411.7" y2="79.33" stroke="#7f7f7f" stroke-width="1"/>
<line x1="728.4" y1="79.33" x2="725.4" y2="79.33" stroke="#7f7f7f" stroke-width="1"/>
<text x="404.2" y="83.53" text-anchor="end" class="tk">25</text>
<line x1="408.7" y1="42.47" x2="411.7" y2="42.47" stroke="#7f7f7f" stroke-width="1"/>
<line x1="728.4" y1="42.47" x2="725.4" y2="42.47" stroke="#7f7f7f" stroke-width="1"/>
<text x="404.2" y="46.67" text-anchor="end" class="tk">30</text>
<text x="404.2" y="9.80" text-anchor="end" class="tk">35</text>
<text x="412.0" y="30.5" class="ttl" textLength="62" lengthAdjust="spacingAndGlyphs">(b) SWI</text>
<rect x="654.7" y="13.8" width="65.59999999999991" height="38.2" fill="#fff" stroke="#7f7f7f" stroke-width="1"/>
<circle cx="666.2" cy="19.6" r="3.35" fill="none" stroke="#2b2b2b" stroke-width="1.2"/>
<text x="677.2" y="23.400000000000002" class="lg" textLength="35.8" lengthAdjust="spacingAndGlyphs">PUI%=0</text>
<circle cx="666.2" cy="31.900000000000002" r="3.35" fill="none" stroke="#d4343c" stroke-width="1.2"/>
<text x="677.2" y="35.7" class="lg" textLength="40.7" lengthAdjust="spacingAndGlyphs">PUI%=10</text>
<circle cx="666.2" cy="44.2" r="3.35" fill="none" stroke="#3a2cf2" stroke-width="1.2"/>
<text x="677.2" y="48.0" class="lg" textLength="40.7" lengthAdjust="spacingAndGlyphs">PUI%=25</text>
<text transform="translate(14.2,130) rotate(-90)" class="lab">R %</text>
<text x="170.5" y="267" class="lab">t / &#937;</text>
<text x="205.6" y="257.3" class="sup">-1</text>
<text x="205.8" y="276.4" class="sup">ci</text>
<text transform="translate(387,132) rotate(-90)" class="lab">R %</text>
<text x="545" y="269" class="lab">t / &#937;</text>
<text x="579.4" y="260.4" class="sup">-1</text>
<text x="580" y="279.1" class="sup">ci</text>
</svg>
</body></html>
